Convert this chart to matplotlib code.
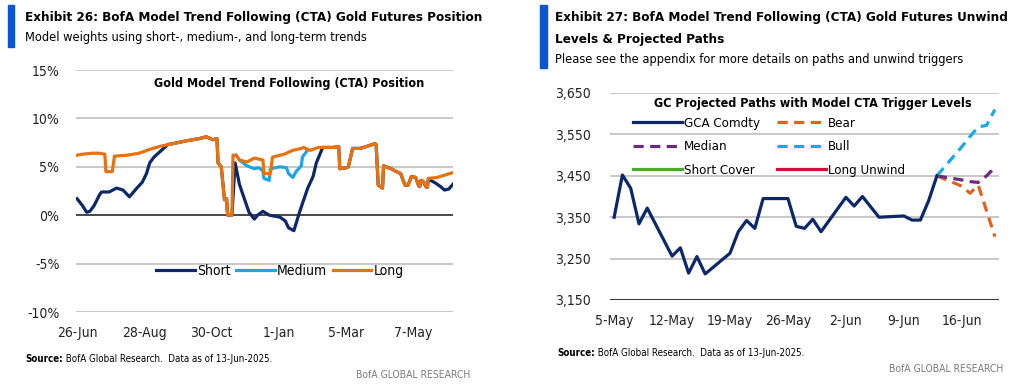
import matplotlib.pyplot as plt
from matplotlib.patches import Rectangle
import pandas as pd

plt.rcParams['font.family'] = ['DejaVu Sans']
plt.rcParams['font.stretch'] = 'condensed'

# ---- Exhibit 26 : CTA position (% weight) ----
short_dates = ['2024-06-26', '2024-07-01', '2024-07-05', '2024-07-08', '2024-07-12', '2024-07-17',
               '2024-07-19', '2024-07-26', '2024-08-02', '2024-08-08', '2024-08-14', '2024-08-21',
               '2024-08-26', '2024-08-30', '2024-09-02', '2024-09-06', '2024-09-11', '2024-09-19',
               '2024-09-24', '2024-10-07', '2024-10-18', '2024-10-25', '2024-10-31', '2024-11-04',
               '2024-11-05', '2024-11-08', '2024-11-11', '2024-11-13', '2024-11-14', '2024-11-18',
               '2024-11-21', '2024-11-25', '2024-11-29', '2024-12-04', '2024-12-09', '2024-12-12',
               '2024-12-17', '2024-12-23', '2025-01-02', '2025-01-07', '2025-01-10', '2025-01-15',
               '2025-01-20', '2025-01-23', '2025-01-28', '2025-02-02', '2025-02-05', '2025-02-08',
               '2025-02-11', '2025-02-21', '2025-02-26', '2025-02-27', '2025-03-05', '2025-03-07',
               '2025-03-11', '2025-03-18', '2025-03-24', '2025-04-01', '2025-04-02', '2025-04-04',
               '2025-04-08', '2025-04-09', '2025-04-16', '2025-04-21', '2025-04-25', '2025-04-29',
               '2025-05-02', '2025-05-05', '2025-05-09', '2025-05-12', '2025-05-13', '2025-05-14',
               '2025-05-16', '2025-05-19', '2025-05-20', '2025-05-21', '2025-05-23', '2025-05-28',
               '2025-06-02', '2025-06-05', '2025-06-09', '2025-06-13']
short_vals = [1.7, 1.0, 0.3, 0.4, 1.0, 2.1, 2.4, 2.4, 2.8, 2.6, 1.9, 2.8,
              3.4, 4.3, 5.4, 6.0, 6.5, 7.3, 7.4, 7.7, 7.9, 8.1, 7.8, 7.9,
              5.4, 5.0, 1.6, 1.7, 0.0, 0.0, 5.4, 3.2, 1.9, 0.3, -0.4, 0.0,
              0.4, 0.0, -0.2, -0.6, -1.3, -1.6, 0.2, 1.2, 2.8, 4.0, 5.4, 6.2,
              7.0, 7.0, 7.1, 4.8, 4.9, 5.0, 6.9, 6.9, 7.1, 7.4, 7.3, 3.1,
              2.8, 5.1, 4.8, 4.5, 4.3, 3.1, 3.1, 4.0, 3.9, 3.0, 3.0, 3.6,
              3.5, 2.9, 2.9, 3.8, 3.6, 3.3, 2.9, 2.6, 2.7, 3.2]

# medium only differs from long between late Nov and late Jan (hidden under long elsewhere)
medium_dates = ['2024-11-22', '2024-11-25', '2024-12-02', '2024-12-09', '2024-12-13', '2024-12-17',
                '2024-12-18', '2024-12-23', '2024-12-24', '2025-01-02', '2025-01-08', '2025-01-10',
                '2025-01-14', '2025-01-17', '2025-01-22', '2025-01-23', '2025-01-27']
medium_vals = [6.2, 5.7, 5.1, 4.8, 4.9, 4.6, 3.8, 3.6, 4.8, 5.0, 4.9, 4.3,
               3.9, 4.5, 5.1, 6.0, 6.6]

long_dates = ['2024-06-26', '2024-07-01', '2024-07-10', '2024-07-17', '2024-07-22', '2024-07-23',
              '2024-07-29', '2024-07-31', '2024-08-12', '2024-08-23', '2024-09-02', '2024-09-11',
              '2024-09-24', '2024-10-07', '2024-10-18', '2024-10-25', '2024-10-31', '2024-11-04',
              '2024-11-05', '2024-11-08', '2024-11-11', '2024-11-13', '2024-11-14', '2024-11-18',
              '2024-11-19', '2024-11-22', '2024-11-25', '2024-12-02', '2024-12-09', '2024-12-13',
              '2024-12-17', '2024-12-18', '2024-12-24', '2024-12-26', '2025-01-06', '2025-01-14',
              '2025-01-22', '2025-01-24', '2025-01-30', '2025-02-07', '2025-02-21', '2025-02-26',
              '2025-02-27', '2025-03-05', '2025-03-07', '2025-03-11', '2025-03-18', '2025-03-24',
              '2025-04-01', '2025-04-02', '2025-04-04', '2025-04-08', '2025-04-09', '2025-04-16',
              '2025-04-21', '2025-04-25', '2025-04-29', '2025-05-02', '2025-05-05', '2025-05-09',
              '2025-05-12', '2025-05-13', '2025-05-14', '2025-05-16', '2025-05-19', '2025-05-20',
              '2025-05-21', '2025-05-29', '2025-06-04', '2025-06-13']
long_vals = [6.2, 6.3, 6.4, 6.4, 6.3, 4.5, 4.5, 6.1, 6.2, 6.4, 6.8, 7.1,
             7.4, 7.7, 7.9, 8.1, 7.8, 7.9, 5.4, 5.0, 1.6, 1.7, 0.0, 0.0,
             6.2, 6.2, 5.7, 5.5, 5.9, 5.8, 5.7, 4.3, 4.3, 6.0, 6.3, 6.7,
             6.9, 7.0, 6.7, 7.0, 7.0, 7.1, 4.8, 4.9, 5.0, 6.9, 6.9, 7.1,
             7.4, 7.3, 3.1, 2.8, 5.1, 4.8, 4.5, 4.3, 3.1, 3.1, 4.0, 3.9,
             3.0, 3.0, 3.6, 3.5, 2.9, 2.9, 3.8, 3.9, 4.1, 4.4]

left_ticks = ['2024-06-26', '2024-08-28', '2024-10-30', '2025-01-01', '2025-03-05', '2025-05-07']
left_ticklabels = ['26-Jun', '28-Aug', '30-Oct', '1-Jan', '5-Mar', '7-May']
left_yticks = [-10, -5, 0, 5, 10, 15]

# ---- Exhibit 27 : GC price and projected paths ----
gca_dates = ['2025-05-05', '2025-05-06', '2025-05-07', '2025-05-08', '2025-05-09', '2025-05-12',
             '2025-05-13', '2025-05-14', '2025-05-15', '2025-05-16', '2025-05-19', '2025-05-20',
             '2025-05-21', '2025-05-22', '2025-05-23', '2025-05-26', '2025-05-27', '2025-05-28',
             '2025-05-29', '2025-05-30', '2025-06-02', '2025-06-03', '2025-06-04', '2025-06-05',
             '2025-06-06', '2025-06-09', '2025-06-10', '2025-06-11', '2025-06-12', '2025-06-13']
gca_vals = [3350, 3452, 3420, 3334, 3372, 3256, 3276, 3215, 3255, 3213, 3263, 3315,
            3342, 3323, 3395, 3395, 3328, 3323, 3345, 3315, 3398, 3377, 3400, 3375,
            3350, 3353, 3343, 3343, 3390, 3450]
proj_dates = ['2025-06-13', '2025-06-16', '2025-06-17', '2025-06-18', '2025-06-19', '2025-06-20']
bear_vals = [3450, 3425, 3408, 3427, 3365, 3303]
median_vals = [3450, 3440, 3436, 3434, 3450, 3470]
bull_vals = [3450, 3520, 3545, 3568, 3572, 3610]

right_ticks = ['2025-05-05', '2025-05-12', '2025-05-19', '2025-05-26', '2025-06-02', '2025-06-09', '2025-06-16']
right_ticklabels = ['5-May', '12-May', '19-May', '26-May', '2-Jun', '9-Jun', '16-Jun']
right_yticks = [3150, 3250, 3350, 3450, 3550, 3650]

NAVY = '#0c2868'
LBLUE = '#1fa6e0'
ORANGE = '#e8720f'
BLUEBAR = '#0a55d0'
W, H = 1024, 390


def d(lst):
    return pd.to_datetime(lst)


fig = plt.figure(figsize=(W / 100, H / 100), dpi=100)


def px(x, y):
    return x / W, 1 - y / H


def style_axes(ax):
    for s in ax.spines.values():
        s.set_visible(False)
    ax.tick_params(length=0, labelsize=10, colors='#222222')
    ax.set_facecolor('none')


# ----- left chart -----
ax1 = fig.add_axes([76 / W, 1 - 312 / H, (453 - 76) / W, (312 - 70) / H])
style_axes(ax1)
for v in left_yticks:
    ax1.axhline(v, color='#3a3a3a' if v == 0 else '#c4c4c4', lw=1.3, zorder=1)
ax1.plot(d(short_dates), short_vals, color=NAVY, lw=2.3, label='Short', zorder=3)
ax1.plot(d(medium_dates), medium_vals, color=LBLUE, lw=2.3, label='Medium', zorder=4)
ax1.plot(d(long_dates), long_vals, color=ORANGE, lw=2.3, label='Long', zorder=5)
ax1.set_ylim(-10, 15)
ax1.set_yticks(left_yticks)
ax1.set_yticklabels([f'{v}%' for v in left_yticks])
ax1.set_xlim(pd.Timestamp('2024-06-25'), pd.Timestamp('2025-06-13'))
ax1.set_xticks(d(left_ticks))
ax1.set_xticklabels(left_ticklabels)
ax1.tick_params(axis='y', pad=12)
ax1.tick_params(axis='x', pad=10)
ax1.text(*px(289, 84), 'Gold Model Trend Following (CTA) Position', transform=fig.transFigure,
         ha='center', va='center', fontsize=9, fontweight='bold')
ax1.legend(loc='center', bbox_to_anchor=px(280, 271), bbox_transform=fig.transFigure, ncol=3,
           frameon=False, fontsize=10, handlelength=2.75, handletextpad=0.15, columnspacing=0.45)

# ----- right chart -----
ax2 = fig.add_axes([610 / W, 1 - 300 / H, (999 - 610) / W, (300 - 93) / H])
style_axes(ax2)
for v in right_yticks:
    ax2.axhline(v, color='#3a3a3a' if v == 3150 else '#c4c4c4', lw=1.5 if v == 3150 else 1.3, zorder=1)
l_gca, = ax2.plot(d(gca_dates), gca_vals, color=NAVY, lw=2.3, label='GCA Comdty', zorder=4)
l_bear, = ax2.plot(d(proj_dates), bear_vals, color='#e0621c', lw=2.3, ls=(0, (3.2, 2.0)), label='Bear', zorder=3)
l_med, = ax2.plot(d(proj_dates), median_vals, color='#6b2a7a', lw=2.3, ls=(0, (3.2, 2.0)), label='Median', zorder=3)
l_bull, = ax2.plot(d(proj_dates), bull_vals, color='#1aa9e2', lw=2.3, ls=(0, (3.2, 2.0)), label='Bull', zorder=3)
l_sc, = ax2.plot([], [], color='#4aaa2a', lw=2.3, label='Short Cover')
l_lu, = ax2.plot([], [], color='#c8143c', lw=2.3, label='Long Unwind')
ax2.set_ylim(3150, 3650)
ax2.set_yticks(right_yticks)
ax2.set_yticklabels([f'{v:,}' for v in right_yticks])
ax2.set_xlim(pd.Timestamp('2025-05-04 12:00'), pd.Timestamp('2025-06-20 12:00'))
ax2.set_xticks(d(right_ticks))
ax2.set_xticklabels(right_ticklabels)
ax2.tick_params(axis='y', pad=14)
ax2.tick_params(axis='x', pad=10)
ax2.text(*px(813, 103), 'GC Projected Paths with Model CTA Trigger Levels', transform=fig.transFigure,
         ha='center', va='center', fontsize=9, fontweight='bold')
ax2.legend([l_gca, l_med, l_sc, l_bear, l_bull, l_lu],
           ['GCA Comdty', 'Median', 'Short Cover', 'Bear', 'Bull', 'Long Unwind'],
           loc='center', bbox_to_anchor=px(769, 147), bbox_transform=fig.transFigure, ncol=2,
           frameon=False, fontsize=9.5, handlelength=3.7, handletextpad=0.15, columnspacing=1.35,
           labelspacing=0.8)

# ----- headers and footers -----
fig.patches.append(Rectangle(px(8, 47), 6 / W, 42 / H, transform=fig.transFigure, color=BLUEBAR))
fig.patches.append(Rectangle(px(540, 68), 7 / W, 63 / H, transform=fig.transFigure, color=BLUEBAR))

fig.text(*px(25, 18), 'Exhibit 26: BofA Model Trend Following (CTA) Gold Futures Position',
         fontsize=9.6, fontweight='bold', va='center')
fig.text(*px(25, 38), 'Model weights using short-, medium-, and long-term trends', fontsize=9.2, va='center')
fig.text(*px(555, 18), 'Exhibit 27: BofA Model Trend Following (CTA) Gold Futures Unwind',
         fontsize=9.6, fontweight='bold', va='center')
fig.text(*px(555, 40), 'Levels & Projected Paths', fontsize=9.6, fontweight='bold', va='center')
fig.text(*px(555, 59), 'Please see the appendix for more details on paths and unwind triggers',
         fontsize=9.2, va='center')

for x0, y0, xr, yr in [(25, 359, 470, 375), (557, 353, 1003, 369)]:
    t = fig.text(*px(x0, y0), 'Source:', fontsize=7, fontweight='bold', va='center')
    ax1.annotate(' BofA Global Research.  Data as of 13-Jun-2025.', xy=(1, 0.5), xycoords=t,
                 fontsize=7, va='center', ha='left', annotation_clip=False)
    fig.text(*px(xr, yr), 'BofA GLOBAL RESEARCH', fontsize=7.5, color='#7a7a7a', ha='right', va='center')

fig.savefig('out.png', dpi=100)
